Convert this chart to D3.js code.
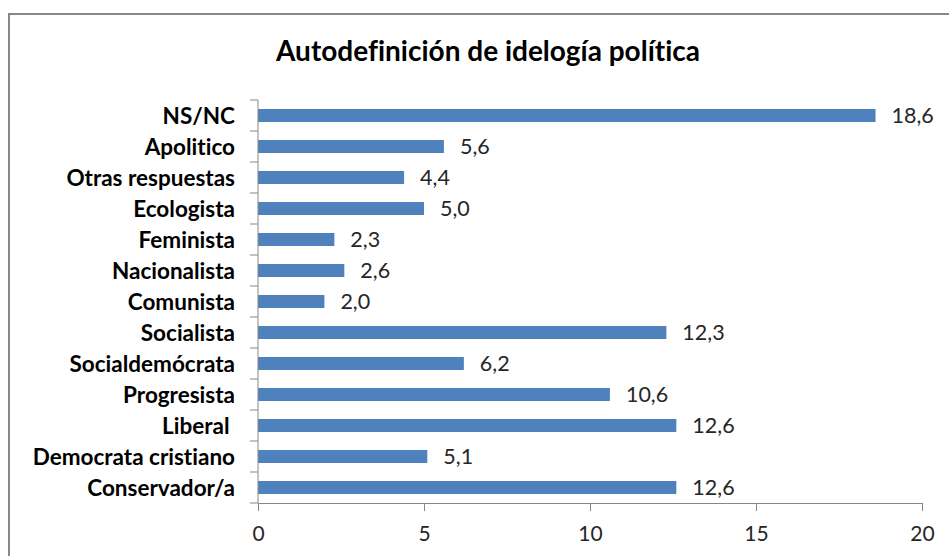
<!DOCTYPE html>
<html>
<head>
<meta charset="utf-8">
<script src="https://cdn.jsdelivr.net/npm/d3@7"></script>
<style>
  body { margin: 0; background: #fff; }
  text { font-family: Lato, "Open Sans", sans-serif; font-variant-ligatures: none; }
</style>
</head>
<body>
<div id="chart"></div>
<script>
var title = "Autodefinición de idelogía política";

var categories = ["NS/NC", "Apolitico", "Otras respuestas", "Ecologista", "Feminista",
  "Nacionalista", "Comunista", "Socialista", "Socialdemócrata", "Progresista",
  "Liberal ", "Democrata cristiano", "Conservador/a"];

var values = [18.6, 5.6, 4.4, 5.0, 2.3, 2.6, 2.0, 12.3, 6.2, 10.6, 12.6, 5.1, 12.6];

var xTicks = [0, 5, 10, 15, 20];

var width = 949,
    height = 556,
    margin = {top: 100, right: 27, bottom: 53, left: 258};

var svg = d3.select("#chart").append("svg")
    .attr("width", width)
    .attr("height", height);

// chart frame (cut off at right and bottom like the picture)
svg.append("rect")
    .attr("x", 9)
    .attr("y", 14)
    .attr("width", width + 10)
    .attr("height", height + 10)
    .attr("fill", "none")
    .attr("stroke", "#878787")
    .attr("stroke-width", 2);

svg.append("text")
    .attr("x", 488)
    .attr("y", 61)
    .attr("text-anchor", "middle")
    .attr("font-size", 28)
    .attr("font-weight", "bold")
    .attr("fill", "#000")
    .text(title);

var x = d3.scaleLinear()
    .domain([0, 20])
    .range([margin.left, width - margin.right]);

var y = d3.scaleBand()
    .domain(categories)
    .range([margin.top, height - margin.bottom])
    .paddingInner(0.58)
    .paddingOuter(0.29);

var fmt = d3.formatLocale({decimal: ",", thousands: ".", grouping: [3], currency: ["", "€"]}).format(".1f");

var data = categories.map(function(c, i) { return {cat: c, val: values[i]}; });

// bars
svg.append("g").selectAll("rect")
    .data(data)
  .enter().append("rect")
    .attr("x", x(0))
    .attr("y", function(d) { return y(d.cat); })
    .attr("width", function(d) { return x(d.val) - x(0); })
    .attr("height", y.bandwidth())
    .attr("fill", "#4f81bd");

// value labels
svg.append("g").selectAll("text")
    .data(data)
  .enter().append("text")
    .attr("x", function(d) { return x(d.val) + 16; })
    .attr("y", function(d) { return y(d.cat) + y.bandwidth() / 2; })
    .attr("dy", "0.36em")
    .attr("font-size", 21.5)
    .attr("fill", "#262626")
    .text(function(d) { return fmt(d.val); });

// x axis
var xAxis = svg.append("g")
    .attr("transform", "translate(0," + (height - margin.bottom) + ")")
    .call(d3.axisBottom(x).tickValues(xTicks).tickSize(8).tickSizeOuter(8).tickPadding(15));
xAxis.select(".domain").attr("stroke", "#878787");
xAxis.selectAll(".tick line").attr("stroke", "#878787");
xAxis.selectAll(".tick text")
    .attr("font-size", 21)
    .attr("font-family", "Lato, sans-serif")
    .attr("fill", "#262626");

// y axis: line plus ticks at category boundaries
var yAxis = svg.append("g");
var step = y.step();
var bounds = categories.map(function(c) { return y(c) - step * y.paddingInner() / 2; });
bounds.push(height - margin.bottom);

yAxis.append("line")
    .attr("x1", x(0)).attr("x2", x(0))
    .attr("y1", margin.top).attr("y2", height - margin.bottom)
    .attr("stroke", "#878787");

yAxis.selectAll(".yt")
    .data(bounds)
  .enter().append("line")
    .attr("class", "yt")
    .attr("x1", x(0) - 8).attr("x2", x(0))
    .attr("y1", function(d) { return d; })
    .attr("y2", function(d) { return d; })
    .attr("stroke", "#878787");

yAxis.selectAll(".ylab")
    .data(categories)
  .enter().append("text")
    .attr("class", "ylab")
    .attr("x", 235)
    .attr("y", function(d) { return y(d) + y.bandwidth() / 2; })
    .attr("dy", "0.36em")
    .attr("text-anchor", "end")
    .attr("font-size", 22.5)
    .attr("font-weight", "bold")
    .attr("fill", "#000")
    .style("white-space", "pre")
    .text(function(d) { return d; });
</script>
</body>
</html>
